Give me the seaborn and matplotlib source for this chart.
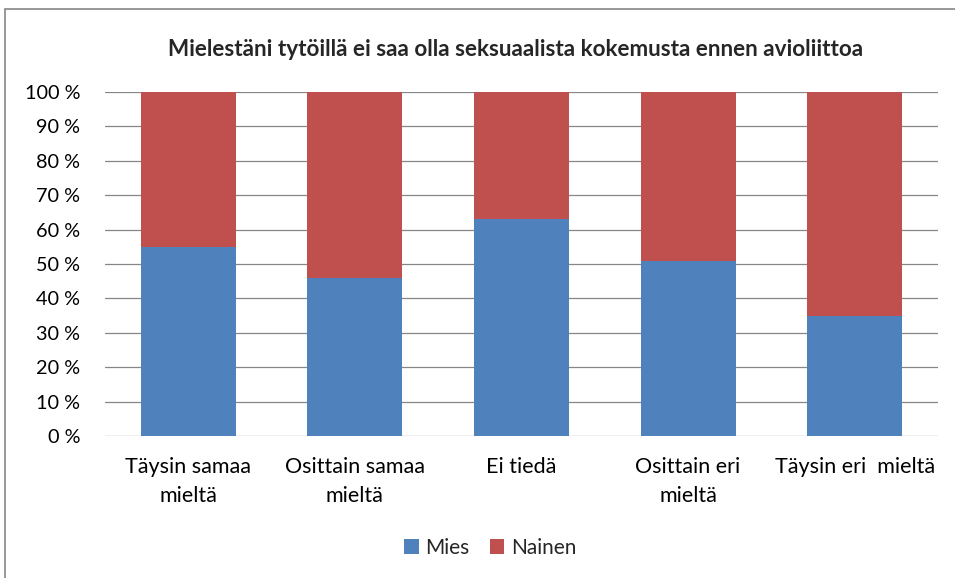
import matplotlib
matplotlib.use("Agg")
import matplotlib.pyplot as plt
import seaborn as sns
import pandas as pd
from matplotlib.patches import Rectangle, Patch

categories = ["Täysin samaa\nmieltä", "Osittain samaa\nmieltä", "Ei tiedä",
              "Osittain eri\nmieltä", "Täysin eri  mieltä"]
mies = [55, 46, 63, 51, 35]
nainen = [45, 54, 37, 49, 65]
series = ["Mies", "Nainen"]
colors = ["#4f81bd", "#c0504d"]
yticks = [0, 10, 20, 30, 40, 50, 60, 70, 80, 90, 100]
title = "Mielestäni tytöillä ei saa olla seksuaalista kokemusta ennen avioliittoa"

sns.set_style("white")
plt.rcParams['font.family'] = ['Lato', 'DejaVu Sans']

df = pd.DataFrame({"cat": categories, "mies": mies,
                   "total": [m + n for m, n in zip(mies, nainen)]})

fig = plt.figure(figsize=(9.55, 5.78), dpi=100)
ax = fig.add_axes([105 / 955, 1 - 436 / 578, 833 / 955, 344 / 578])

sns.barplot(data=df, x="cat", y="total", color=colors[1], width=0.57,
            saturation=1, ax=ax, zorder=3, linewidth=0)
sns.barplot(data=df, x="cat", y="mies", color=colors[0], width=0.57,
            saturation=1, ax=ax, zorder=3, linewidth=0)

ax.set_xlim(-0.5, 4.5)
ax.set_ylim(0, 100)
ax.set_yticks(yticks)
ax.set_yticklabels([f"{t} %" for t in yticks])
ax.yaxis.grid(True, color="#868686", linewidth=0.9, zorder=0)
ax.set_axisbelow(True)
for s in ax.spines.values():
    s.set_visible(False)
ax.tick_params(axis="y", length=0, pad=18, labelsize=14.3, labelcolor="black")
ax.tick_params(axis="x", length=0, pad=15, labelsize=15.5, labelcolor="black")
ax.set_xlabel("")
ax.set_ylabel("")
for lbl in ax.get_xticklabels():
    lbl.set_linespacing(1.6)

fig.text(516 / 955, 1 - 50 / 578, title, ha="center", va="center",
         fontsize=16.2, fontweight="bold")

handles = [Patch(facecolor=c, edgecolor="none", label=s) for s, c in zip(series, colors)]
fig.legend(handles=handles, loc="center", bbox_to_anchor=(490 / 955, 1 - 548 / 578),
           ncol=2, frameon=False, fontsize=15, handlelength=0.7, handleheight=0.7,
           handletextpad=0.3, columnspacing=1.0)

fig.add_artist(Rectangle((5 / 955, -0.05), 1.1, 1.05 - 9 / 578,
                         transform=fig.transFigure, fill=False,
                         edgecolor="#868686", linewidth=1.2))

fig.savefig("out.png", dpi=100)
